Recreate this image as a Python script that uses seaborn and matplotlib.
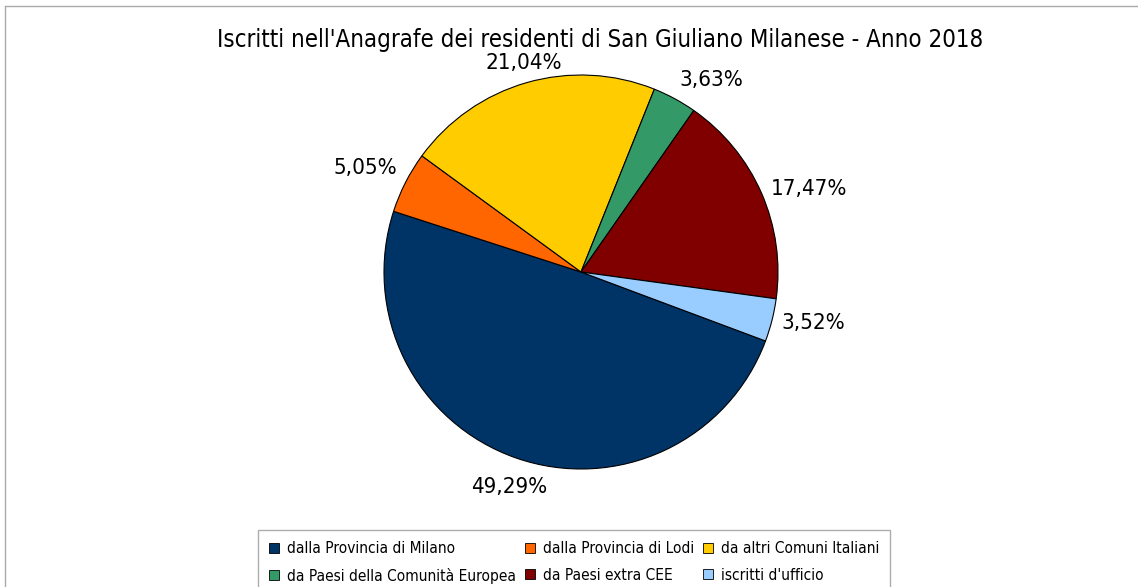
import numpy as np
import seaborn as sns
from matplotlib import pyplot as plt
from matplotlib.patches import Patch
from matplotlib.lines import Line2D

# data
categories = [
    "dalla Provincia di Milano",
    "dalla Provincia di Lodi",
    "da altri Comuni Italiani",
    "da Paesi della Comunità Europea",
    "da Paesi extra CEE",
    "iscritti d'ufficio",
]
percentages = [49.29, 5.05, 21.04, 3.63, 17.47, 3.52]
colors = ["#003366", "#ff6600", "#ffcc00", "#339966", "#800000", "#99ccff"]
title = "Iscritti nell'Anagrafe dei residenti di San Giuliano Milanese - Anno 2018"

sns.set_style("white")
plt.rcParams["font.family"] = ["DejaVu Sans"]
plt.rcParams["text.color"] = "black"

W, H = 1138, 587
fig = plt.figure(figsize=(W / 100, H / 100), dpi=100)

# pie axes: center ~ (581, 272) px, radius ~197 px
cx, cy, r = 581, 272, 197
ax = fig.add_axes([(cx - r) / W, (H - cy - r) / H, 2 * r / W, 2 * r / H])
wedges, _ = ax.pie(
    percentages,
    colors=colors,
    startangle=-20.5,
    counterclock=False,
    wedgeprops=dict(edgecolor="black", linewidth=0.8),
)
ax.set_xlim(-1, 1)
ax.set_ylim(-1, 1)
ax.axis("off")

# percentage labels outside, LibreOffice style
for w, p in zip(wedges, percentages):
    ang = np.deg2rad((w.theta1 + w.theta2) / 2)
    c, s = np.cos(ang), np.sin(ang)
    ha = "center" if abs(c) < 0.4 else ("left" if c > 0 else "right")
    va = "center" if abs(s) < 0.43 else ("bottom" if s > 0 else "top")
    d = 1.1 if va == "top" else 1.05
    ax.text(d * c, d * s, f"{p:.2f}%".replace(".", ","), ha=ha, va=va,
            fontsize=16, fontstretch="condensed", color="black", clip_on=False)

fig.text(600 / W, 1 - 40 / H, title, ha="center", va="center",
         fontsize=17.2, fontstretch="condensed", color="black")

# legend, 3 columns, filled by rows
order = [0, 3, 1, 4, 2, 5]
handles = [Patch(facecolor=colors[i], edgecolor="black", linewidth=0.6) for i in order]
labels = [categories[i] for i in order]
leg = fig.legend(handles, labels, ncol=3, loc="lower center",
                 bbox_to_anchor=(574 / W, -0.026), frameon=True, fancybox=False,
                 handlelength=0.65, handleheight=0.65, handletextpad=0.5,
                 columnspacing=0.6, labelspacing=0.75, borderpad=0.7,
                 prop=dict(size=11.1, stretch="condensed"))
leg.get_frame().set_edgecolor("#999999")
leg.get_frame().set_linewidth(1.0)
for t in leg.get_texts():
    t.set_color("black")

# outer chart frame (left and top visible)
fig.add_artist(Line2D([5 / W, 5 / W], [0, 1 - 6 / H], color="#aaaaaa", lw=1.0))
fig.add_artist(Line2D([5 / W, 1], [1 - 6 / H, 1 - 6 / H], color="#aaaaaa", lw=1.0))

fig.savefig("out.png", dpi=100, facecolor="white")
